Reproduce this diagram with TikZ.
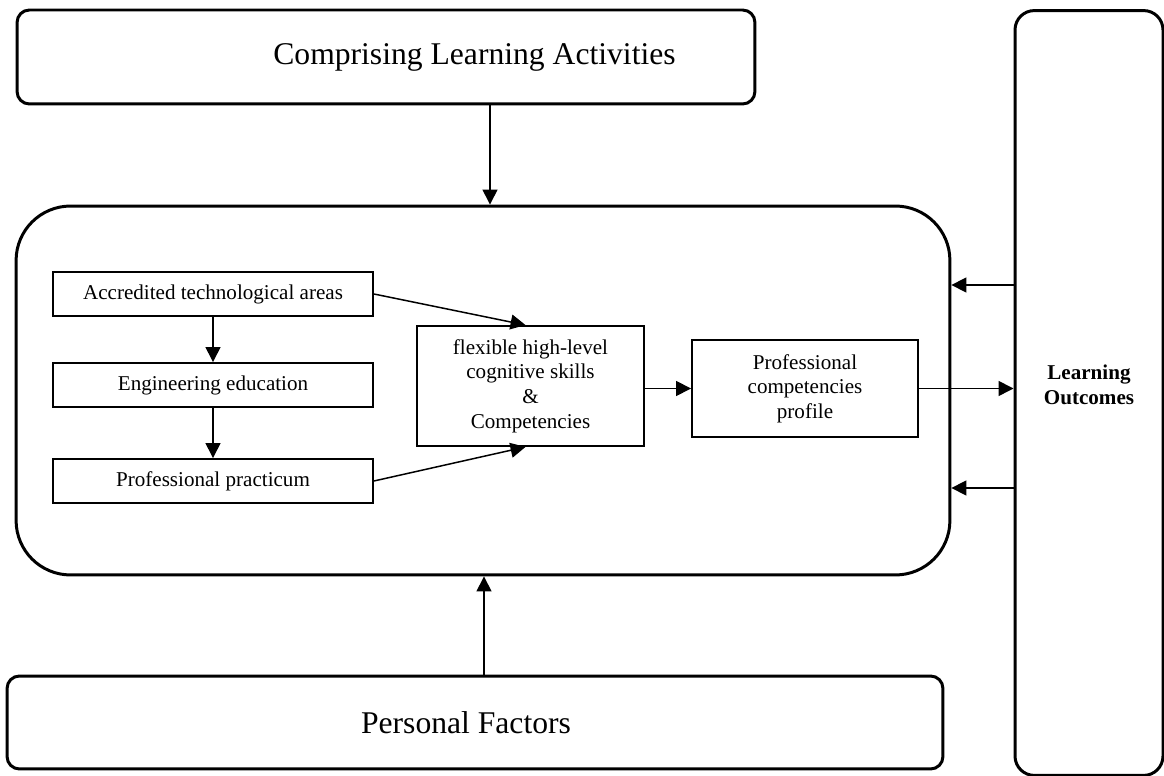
\documentclass[tikz,border=0pt]{standalone}
\usepackage{fontspec}
\setmainfont{Liberation Serif}
\usepackage{tikz}
\usetikzlibrary{positioning,arrows.meta,calc}
\tikzset{
  frame/.style={draw,line width=1.7pt,rounded corners=7pt,inner sep=2pt,align=center},
  big/.style={font=\fontsize{18}{21}\selectfont},
  box/.style={draw,line width=1.1pt,inner sep=2pt,align=center,font=\fontsize{12}{14}\selectfont},
  arr/.style={-{Triangle[length=8.5pt,width=8.5pt]},line width=0.85pt},
}

\begin{document}
\begin{tikzpicture}[x=0.02cm,y=-0.02cm]
\useasboundingbox (0,0) rectangle (1164,776);
\node[frame,minimum width=14.76cm,minimum height=1.88cm,
  label={[big,xshift=1.77cm]center:Comprising Learning Activities}] (act) at (386,57) {};
\node[frame,rounded corners=31pt,minimum width=18.68cm,minimum height=7.38cm] (core) at (483,390.5) {};
\node[frame,big,minimum width=18.72cm,minimum height=1.86cm,text depth=0pt] (pers) at (475,722.5) {\hspace*{-0.36cm}Personal Factors};
\node[frame,rounded corners=11pt,minimum width=2.96cm,minimum height=15.3cm,
  label={[align=center,font=\fontsize{12}{14}\selectfont\bfseries,yshift=0.16cm]center:Learning\\Outcomes}] (outc) at (1089,393) {};
\node[box,minimum width=6.4cm,minimum height=0.88cm] (acc) at (213,294) {Accredited technological areas};
\node[box,minimum width=6.4cm,minimum height=0.88cm] (eng) at (213,385) {Engineering education};
\node[box,minimum width=6.4cm,minimum height=0.88cm] (prac) at (213,481) {Professional practicum};
\node[box,minimum width=4.54cm,minimum height=2.4cm] (flex) at (530.5,386) {flexible high-level\\cognitive skills\\\&\\Competencies};
\node[box,minimum width=4.52cm,minimum height=1.94cm] (prof) at (805,388.5) {Professional\\competencies\\profile};
\draw[arr] (act.south -| 490,0) -- (core.north -| 490,0);
\draw[arr] (pers.north -| 484,0) -- (core.south -| 484,0);
\draw[arr] (acc) -- (eng);
\draw[arr] (eng) -- (prac);
\draw[arr] (acc.east) -- ([xshift=-0.1cm]flex.north);
\draw[arr] (prac.east) -- ([xshift=-0.1cm]flex.south);
\draw[arr] (flex.east |- prof.west) -- (prof.west);
\draw[arr] (prof.east) -- (prof.east -| outc.west);
\draw[arr] (outc.west |- 0,285) -- (core.east |- 0,285);
\draw[arr] (outc.west |- 0,488) -- (core.east |- 0,488);
\end{tikzpicture}
\end{document}
